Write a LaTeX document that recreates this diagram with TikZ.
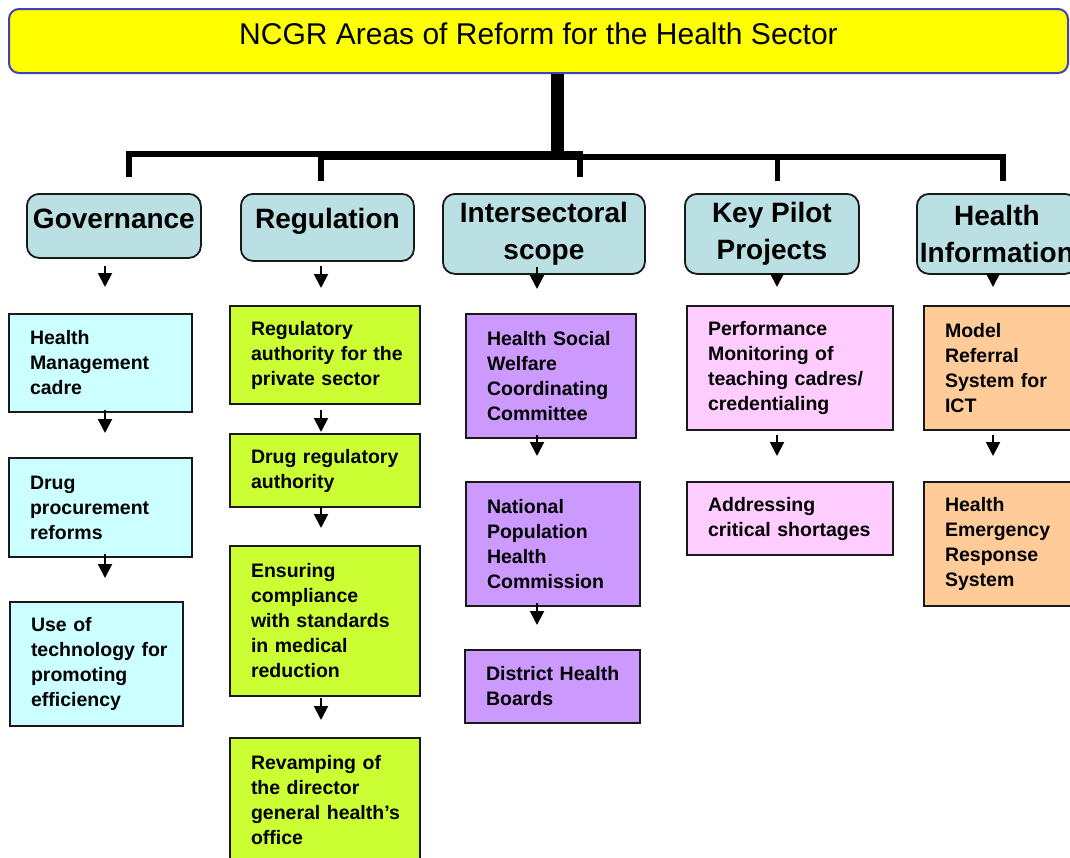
\documentclass[tikz,border=0pt]{standalone}
\usepackage{fontspec}
\setmainfont{Liberation Sans}
\usetikzlibrary{arrows.meta,calc}
\definecolor{titlefill}{HTML}{FFFF00}
\definecolor{titleline}{HTML}{4040C0}
\definecolor{headfill}{HTML}{BAE0E3}
\definecolor{govfill}{HTML}{CCFFFF}
\definecolor{regfill}{HTML}{CCFF33}
\definecolor{intfill}{HTML}{CC99FF}
\definecolor{kpfill}{HTML}{FFCCFF}
\definecolor{hifill}{HTML}{FFCC99}
\begin{document}
\begin{tikzpicture}[x=1pt,y=-1pt,
  titlebox/.style={draw=titleline, line width=2pt, fill=titlefill, rounded corners=10pt,
    anchor=north west, inner sep=0pt, font=\fontsize{30}{36}\selectfont},
  headbox/.style={draw=black!90, line width=1.8pt, fill=headfill, rounded corners=12pt,
    anchor=north west, inner sep=0pt, align=center, font=\fontsize{28}{37}\selectfont\bfseries},
  itembox/.style={draw=black!90, line width=2pt, anchor=north west, inner xsep=21pt,
    inner ysep=0pt, align=left, font=\fontsize{19.5}{25}\selectfont\bfseries},
  branch/.style={line width=#1, line join=miter, line cap=butt, draw=black},
  arr/.style={-{Triangle[width=14pt,length=14pt]}, line width=2pt},
]
\useasboundingbox (0,0) rectangle (1070,857);
\clip (0,0) rectangle (1070,857);

% title
\node[titlebox, minimum width=1059pt, text height=35pt, text depth=29pt] (title) at (8,8)
  {NCGR Areas of Reform for the Health Sector};

% area headers
\node[headbox, minimum width=174pt, text height=35pt, text depth=29pt] (hgov) at (26,193) {Governance};
\node[headbox, minimum width=173pt, text height=35pt, text depth=32pt] (hreg) at (240,193) {Regulation};
\node[headbox, minimum width=202pt, minimum height=80pt] (hint) at (442,193) {Intersectoral\\scope};
\node[headbox, minimum width=174pt, minimum height=80pt] (hkp) at (684,193) {Key Pilot\\Projects};
\node[headbox, minimum width=160pt, minimum height=80pt] (hhi) at (916,193) {Health\\Information};

% governance (line breaks fixed by hand, ties keep each line whole)
\node[itembox, fill=govfill, text width=141pt, minimum height=98pt] (hmc) at (8,313) {Health\\Management\\cadre};
\node[itembox, fill=govfill, text width=141pt, minimum height=99pt] (dpr) at (8,457) {Drug\\procurement\\reforms};
\node[itembox, fill=govfill, text width=131pt, minimum height=124pt] (uot) at (9,601) {Use~of\\technology~for\\promoting\\efficiency};

% regulation
\node[itembox, fill=regfill, text width=148pt, minimum height=98pt] (rpa) at (229,305) {Regulatory\\authority~for~the\\private~sector};
\node[itembox, fill=regfill, text width=148pt, minimum height=73pt] (dra) at (229,433) {Drug~regulatory\\authority};
\node[itembox, fill=regfill, text width=148pt, minimum height=150pt] (ens) at (229,545) {Ensuring\\compliance\\with~standards\\in~medical\\reduction};
\node[itembox, fill=regfill, text width=148pt, minimum height=124pt] (rev) at (229,737) {Revamping~of\\the~director\\general~health’s\\office};

% intersectoral scope
\node[itembox, fill=intfill, text width=128pt, minimum height=124pt] (hsw) at (465,313) {Health~Social\\Welfare\\Coordinating\\Committee};
\node[itembox, fill=intfill, text width=132pt, minimum height=124pt] (nph) at (465,481) {National\\Population\\Health\\Commission};
\node[itembox, fill=intfill, text width=133pt, minimum height=73pt] (dhb) at (464,649) {District~Health\\Boards};

% key pilot projects
\node[itembox, fill=kpfill, text width=164pt, minimum height=124pt] (pmt) at (686,305) {Performance\\Monitoring~of\\teaching~cadres/\\credentialing};
\node[itembox, fill=kpfill, text width=164pt, minimum height=73pt] (acs) at (686,481) {Addressing\\critical~shortages};

% health information
\node[itembox, fill=hifill, text width=148pt, minimum height=124pt] (mrs) at (923,305) {Model\\Referral\\System~for\\ICT};
\node[itembox, fill=hifill, text width=148pt, minimum height=124pt] (her) at (923,481) {Health\\Emergency\\Response\\System};

% branching lines from the title
\coordinate (hub) at (557.3,153.7);
\coordinate (hubM) at (557,157);
\coordinate (jA) at (583,153.7);
\coordinate (d1) at (129,177);
\coordinate (d2) at (320.8,181);
\coordinate (d3) at (580,177);
\coordinate (d4) at (777.5,181);
\coordinate (d5) at (1002.5,181);
\draw[branch=13pt] (title.south -| hub) -- (hub);
\draw[branch=6pt] (d1) |- (jA);
\draw[branch=6pt] (d2) |- (hubM);
\draw[branch=6pt] (d5) |- (hubM);
\draw[branch=6pt] (d3) -- (d3 |- hubM);
\draw[branch=5pt] (d4) -- (d4 |- hubM);

% arrow columns
\coordinate (cg) at (105,0);
\coordinate (cr) at (321,0);
\coordinate (ci) at (537,0);
\coordinate (ck) at (777,0);
\coordinate (ch) at (993,0);

\draw[arr, shorten <=7pt, shorten >=26pt] (hgov.south -| cg) -- (hmc.north -| cg);
\draw[arr, shorten <=4pt, shorten >=17pt] (hreg.south -| cr) -- (rpa.north -| cr);
\draw[arr, shorten <=-8pt, shorten >=24pt] (hint.south -| ci) -- (hsw.north -| ci);
\draw[arr, shorten <=-8pt, shorten >=18pt] (hkp.south -| ck) -- (pmt.north -| ck);
\draw[arr, shorten <=-8pt, shorten >=18pt] (hhi.south -| ch) -- (mrs.north -| ch);

\draw[arr, shorten <=-3pt, shorten >=24pt] (hmc.south -| cg) -- (dpr.north -| cg);
\draw[arr, shorten <=-4pt, shorten >=23pt] (dpr.south -| cg) -- (uot.north -| cg);
\draw[arr, shorten <=5pt, shorten >=1pt] (rpa.south -| cr) -- (dra.north -| cr);
\draw[arr, shorten <=-1pt, shorten >=17pt] (dra.south -| cr) -- (ens.north -| cr);
\draw[arr, shorten <=1pt, shorten >=17pt] (ens.south -| cr) -- (rev.north -| cr);
\draw[arr, shorten <=-4pt, shorten >=25pt] (hsw.south -| ci) -- (nph.north -| ci);
\draw[arr, shorten <=-4pt, shorten >=24pt] (nph.south -| ci) -- (dhb.north -| ci);
\draw[arr, shorten <=4pt, shorten >=25pt] (pmt.south -| ck) -- (acs.north -| ck);
\draw[arr, shorten <=4pt, shorten >=25pt] (mrs.south -| ch) -- (her.north -| ch);
\end{tikzpicture}
\end{document}
